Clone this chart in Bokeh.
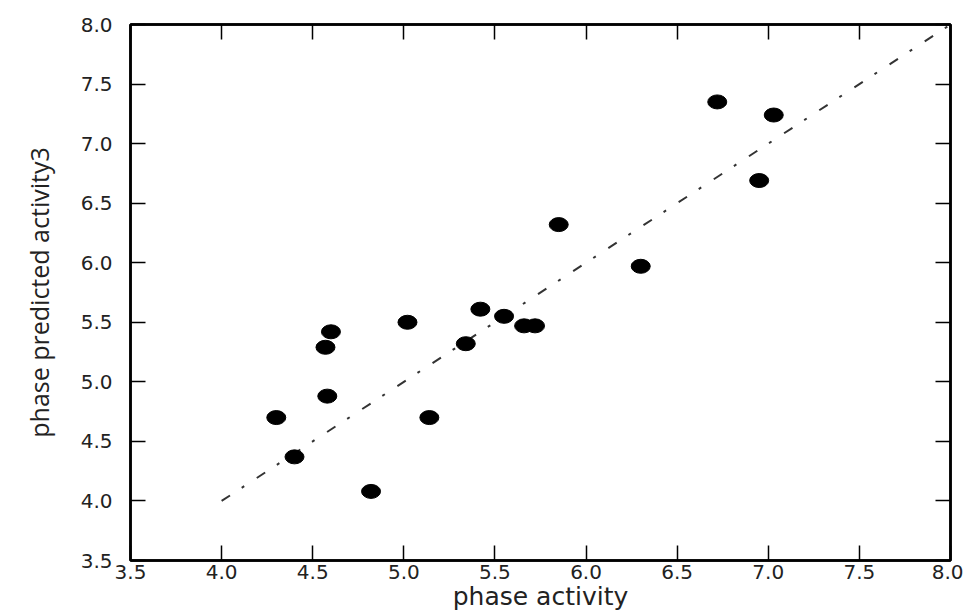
from bokeh.plotting import figure
from bokeh.models import Range1d, LinearAxis, FixedTicker
from bokeh.embed import file_html
from bokeh.resources import INLINE

# data
x_vals = [4.30, 4.40, 4.57, 4.58, 4.60, 4.82, 5.02, 5.14, 5.34, 5.42, 5.55, 5.66, 5.72, 5.85, 6.30, 6.72, 6.95, 7.03]
y_vals = [4.70, 4.37, 5.29, 4.88, 5.42, 4.08, 5.50, 4.70, 5.32, 5.61, 5.55, 5.47, 5.47, 6.32, 5.97, 7.35, 6.69, 7.24]
fit_x = [4.0, 8.0]
fit_y = [4.0, 8.0]
ticks = [3.5, 4.0, 4.5, 5.0, 5.5, 6.0, 6.5, 7.0, 7.5, 8.0]
tick_labels = ["3.5", "4.0", "4.5", "5.0", "5.5", "6.0", "6.5", "7.0", "7.5", "8.0"]

p = figure(width=963, height=613, x_range=Range1d(3.5, 8.0), y_range=Range1d(3.5, 8.0),
           output_backend="svg", toolbar_location=None,
           min_border_left=130, min_border_right=13, min_border_top=24, min_border_bottom=10)
p.grid.visible = False
p.outline_line_color = "black"
p.outline_line_width = 2.5
p.background_fill_color = "white"
p.border_fill_color = "white"


def style(ax, show_labels=True):
    ax.ticker = FixedTicker(ticks=ticks)
    if show_labels:
        ax.major_label_overrides = {t: l for t, l in zip(ticks, tick_labels)}
        ax.major_label_text_font_size = "20px"
    else:
        ax.major_label_overrides = {t: "" for t in ticks}
        ax.major_label_text_font_size = "8px"
        ax.major_label_standoff = 0
    ax.major_tick_in = 15
    ax.major_tick_out = 0
    ax.minor_tick_in = 0
    ax.minor_tick_out = 0
    ax.major_tick_line_width = 1.5
    ax.major_tick_line_color = "black"
    ax.axis_line_width = 2.5
    ax.axis_line_color = "black"
    ax.major_label_text_font = "DejaVu Sans"
    ax.major_label_text_color = "#222222"


xa = p.xaxis[0]
ya = p.yaxis[0]
style(xa)
style(ya)
xa.major_label_standoff = 4
ya.major_label_standoff = 18
xa.axis_label = "phase activity"
xa.axis_label_text_font = "DejaVu Sans"
xa.axis_label_text_font_size = "25px"
xa.axis_label_text_font_style = "normal"
xa.axis_label_text_color = "#222222"
xa.axis_label_standoff = 0
ya.axis_label = "phase predicted activity3"
ya.axis_label_text_font = "Open Sans"
ya.axis_label_text_font_size = "25px"
ya.axis_label_text_font_style = "normal"
ya.axis_label_text_color = "#222222"
ya.axis_label_standoff = 22

ra = LinearAxis()
style(ra, False)
p.add_layout(ra, "right")
ta = LinearAxis()
style(ta, False)
p.add_layout(ta, "above")

p.line(fit_x, fit_y, line_color="#333333", line_width=2, line_dash="10 14 3 15")
p.ellipse(x=x_vals, y=y_vals, width=19, height=14, width_units="screen", height_units="screen",
          fill_color="black", line_color="black")

open("out.html", "w").write(file_html(p, INLINE))
